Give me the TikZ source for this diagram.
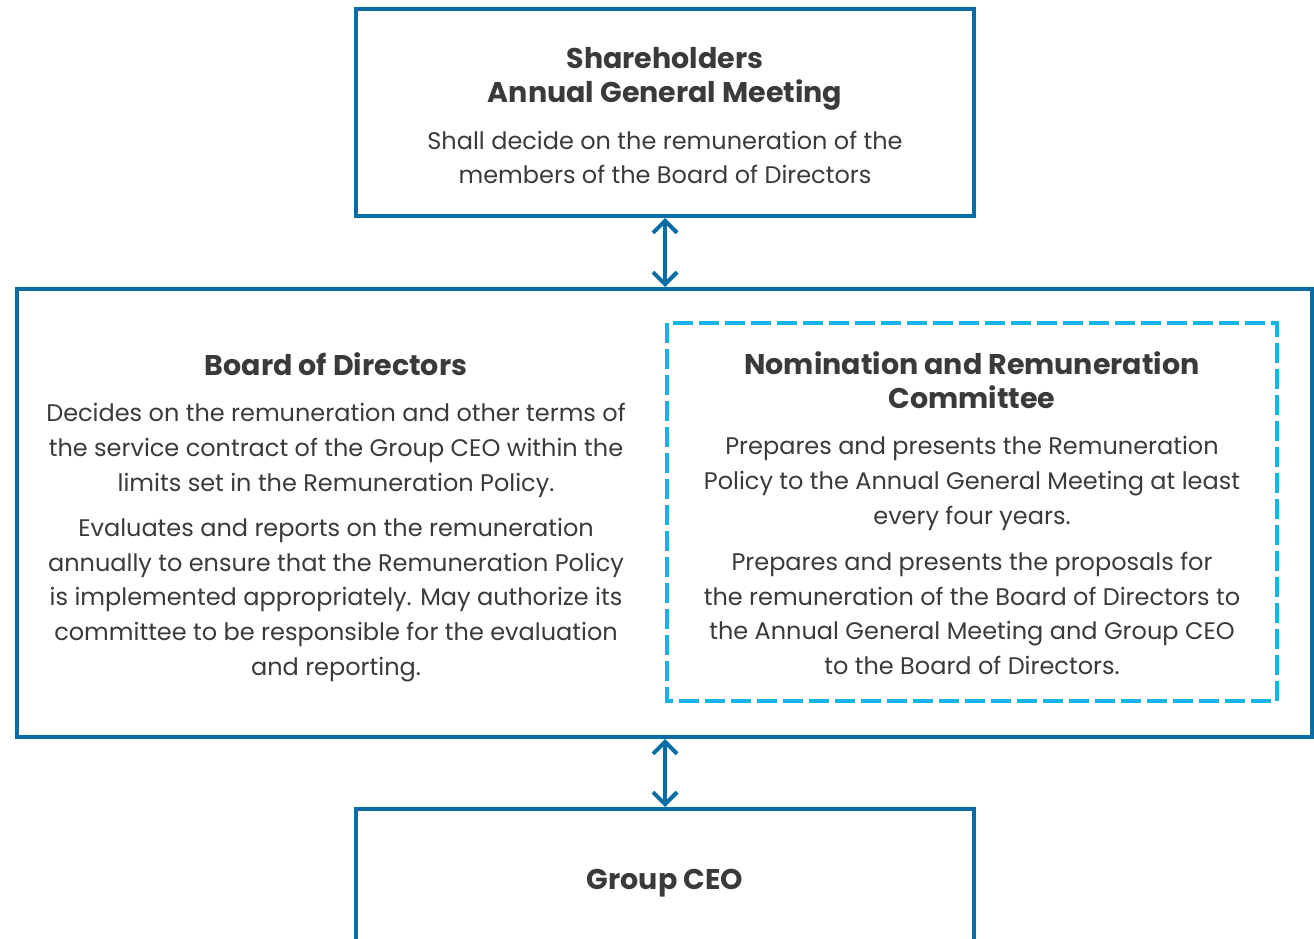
\documentclass[tikz,border=0pt]{standalone}
\usepackage{fontspec}
\setmainfont{Poppins}
\usetikzlibrary{arrows.meta}
\definecolor{boxblue}{RGB}{8,108,165}
\definecolor{dashcyan}{RGB}{20,178,230}
\definecolor{txt}{RGB}{58,58,58}
\tikzset{
  solidbox/.style={draw=boxblue, line width=4pt},
  dashbox/.style={draw=dashcyan, line width=3.6pt, dash pattern=on 20pt off 6pt},
  link/.style={draw=boxblue, line width=4pt, {Straight Barb[length=12pt,width=24pt,line width=4pt]}-{Straight Barb[length=12pt,width=24pt,line width=4pt]}},
  ttl/.style={text=txt, font=\fontsize{28.5}{34.5}\selectfont\bfseries, align=center, inner sep=0pt},
  bdy/.style={text=txt, font=\fontsize{24}{34.7}\selectfont, align=center, inner sep=0pt},
}
\begin{document}
\begin{tikzpicture}[x=1pt,y=-1pt]
\useasboundingbox (0,0) rectangle (1314,939);
\clip (0,0) rectangle (1314,939);
% boxes
\draw[solidbox] (356,9) rectangle (974,216);
\draw[solidbox] (17,289) rectangle (1312,737);
\draw[dashbox] (667,323) rectangle (1277,701);
\draw[solidbox] (356,809) rectangle (974,980);
% anchor coordinates for connectors
\coordinate (shTop) at (665,218);
\coordinate (boardTop) at (665,287);
\coordinate (boardBot) at (665,739);
\coordinate (ceoTop) at (665,807);
\draw[link] (shTop) -- (boardTop);
\draw[link] (boardBot) -- (ceoTop);
% texts
\node[ttl] (shT) at (665,79) {Shareholders\\Annual General Meeting};
\node[bdy] (shB) at (665,157.5) {Shall decide on the remuneration of the\\members of the Board of Directors};
\node[ttl] (bdT) at (336,364) {Board of Directors};
\node[bdy] (bdB1) at (336,450.5) {Decides on the remuneration and other terms of\\the service contract of the Group CEO within the\\limits set in the Remuneration Policy.};
\node[bdy] (bdB2) at (336,600) {Evaluates and reports on the remuneration\\annually to ensure that the Remuneration Policy\\is implemented appropriately. May authorize its\\committee to be responsible for the evaluation\\and reporting.};
\node[ttl] (nrT) at (972,380) {Nomination and Remuneration\\Committee};
\node[bdy] (nrB1) at (972,483.5) {Prepares and presents the Remuneration\\Policy to the Annual General Meeting at least\\every four years.};
\node[bdy] (nrB2) at (972,613.5) {Prepares and presents the proposals for\\the remuneration of the Board of Directors to\\the Annual General Meeting and Group CEO\\to the Board of Directors.};
\node[ttl] (ceo) at (665,883) {Group CEO};
\end{tikzpicture}
\end{document}
